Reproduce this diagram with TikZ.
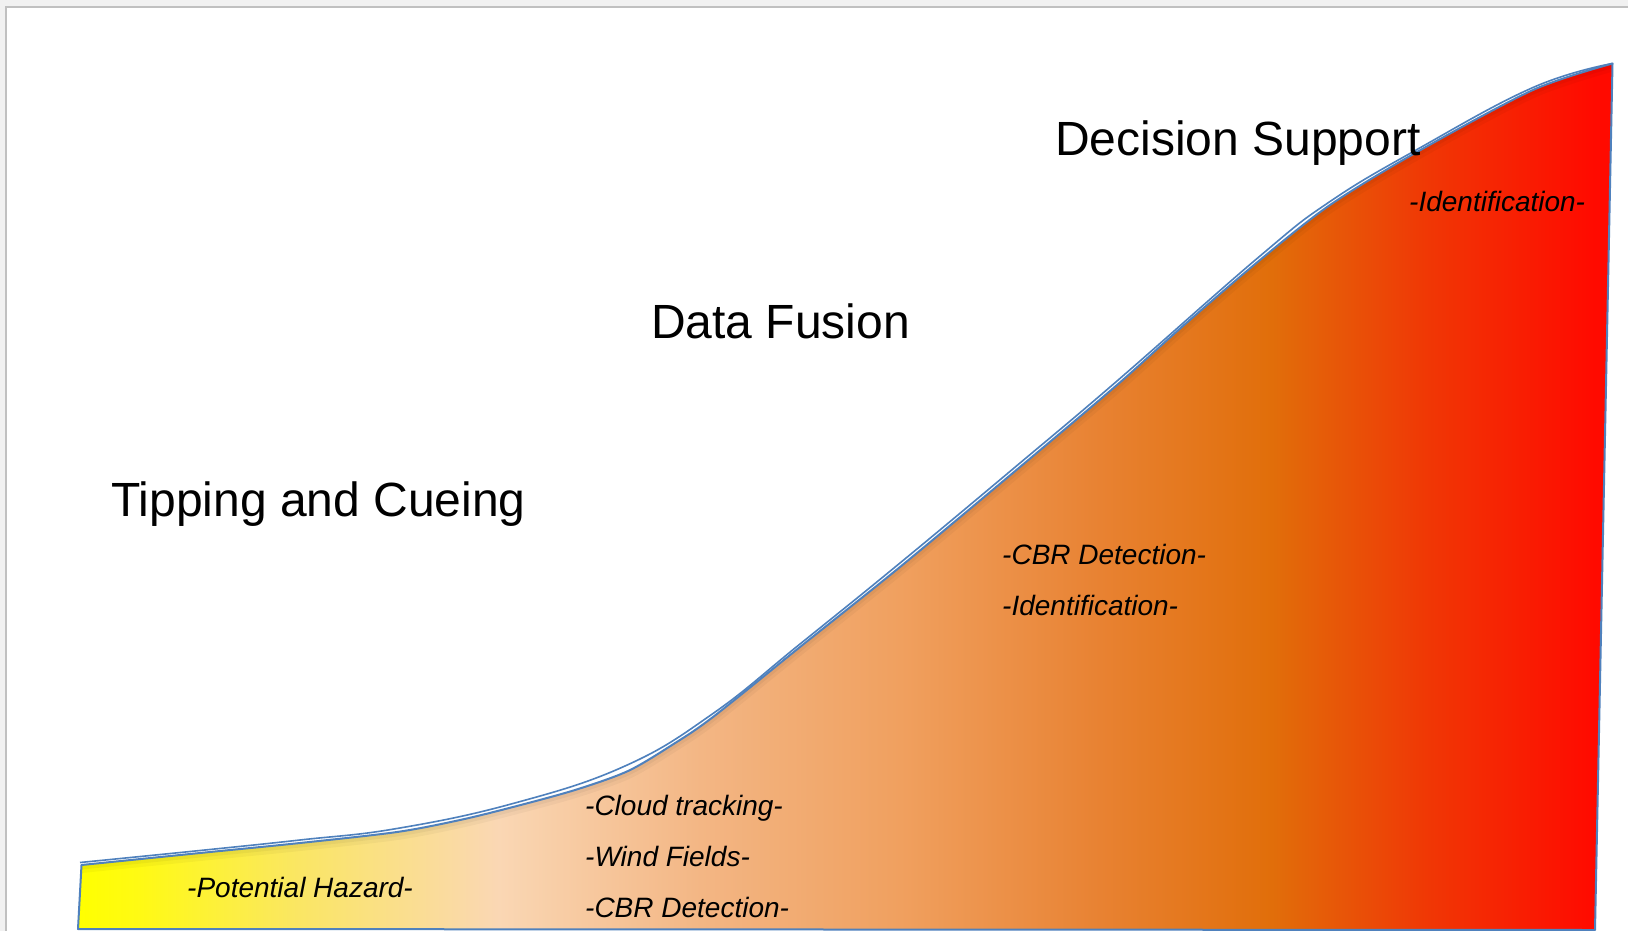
\documentclass[tikz,border=0pt]{standalone}
\usepackage{fontspec}
\setmainfont{Liberation Sans}
\definecolor{gA}{RGB}{255,255,0}
\definecolor{gB}{RGB}{255,250,20}
\definecolor{gC}{RGB}{250,230,100}
\definecolor{gD}{RGB}{250,215,180}
\definecolor{gE}{RGB}{243,182,132}
\definecolor{gF}{RGB}{240,160,95}
\definecolor{gG}{RGB}{232,130,50}
\definecolor{gH}{RGB}{225,110,10}
\definecolor{gI}{RGB}{240,55,5}
\definecolor{gJ}{RGB}{255,10,0}
\definecolor{edgeblue}{RGB}{79,129,189}
\definecolor{bggray}{RGB}{241,241,241}
\definecolor{framegray}{RGB}{192,192,192}
\pgfdeclarehorizontalshading{riskgrad}{100bp}{color(0bp)=(gA); color(25bp)=(gA); color(27bp)=(gB); color(32.2bp)=(gC); color(38.7bp)=(gD); color(45.3bp)=(gE); color(51.8bp)=(gF); color(58.3bp)=(gG); color(63.9bp)=(gH); color(69bp)=(gI); color(74.4bp)=(gJ); color(100bp)=(gJ)}
\tikzset{
  title/.style={anchor=base west, inner sep=0pt, font=\fontsize{48}{58}\selectfont},
  item/.style={anchor=base west, inner sep=0pt, font=\fontsize{28}{34}\selectfont\itshape},
  outline/.style={draw=edgeblue, line width=2pt, line join=round},
}
\begin{document}
\begin{tikzpicture}[x=1pt,y=-1pt]
\useasboundingbox (0,0) rectangle (1628,931);
\fill[bggray] (0,0) rectangle (1628,931);
\fill[white] (6,7) rectangle (1640,940);
\draw[framegray, line width=2.5pt] (6,940) -- (6,7) -- (1640,7);
% area
\def\curvepts{(81.5,865) (200,853) (300,843) (397,832) (460,820) (513,807) (575,790) (628,771) (672,745) (713,717) (800,647) (900,567) (1020,467) (1117,385) (1183,326) (1260,260) (1330,205) (1417,152) (1533,90) (1612.5,63.5)}
\path[shading=riskgrad] (78,929) -- plot[smooth, tension=0.5] coordinates {\curvepts} -- (1595,930) -- cycle;
\begin{scope}
\clip (78,929) -- plot[smooth, tension=0.5] coordinates {\curvepts} -- (1595,930) -- cycle;
\draw[black, opacity=0.035, line width=10pt, yshift=-3pt] plot[smooth, tension=0.5] coordinates {\curvepts};
\draw[black, opacity=0.045, line width=5pt, yshift=-2pt] plot[smooth, tension=0.5] coordinates {\curvepts};
\end{scope}
\draw[outline] (78,929) -- plot[smooth, tension=0.5] coordinates {\curvepts} -- (1595,930) -- cycle;
\draw[outline, line width=1.6pt] plot[smooth, tension=0.7] coordinates {(80,862.5) (200,850.5) (300,840) (397,828.5) (513,803.5) (625,766) (713,713.5) (800,644) (900,563) (1020,463) (1117,381) (1260,256) (1330,201.5) (1417,149.5) (1533,87.5) (1612.5,63.5)};
% titles
\node[title] (tc) at (111,516) {Tipping and Cueing};
\node[title] (df) at (651,338.5) {Data Fusion};
\node[title] (ds) at (1055,156) {Decision Support};
% items
\node[item] (id1) at (1409,211) {-Identification-};
\node[item] (cbr1) at (1002,564) {-CBR Detection-};
\node[item] (id2) at (1002,615) {-Identification-};
\node[item] (cl) at (585,815) {-Cloud tracking-};
\node[item] (wf) at (585,866) {-Wind Fields-};
\node[item] (cbr2) at (585,917) {-CBR Detection-};
\node[item] (ph) at (187,897) {-Potential Hazard-};
\end{tikzpicture}
\end{document}
